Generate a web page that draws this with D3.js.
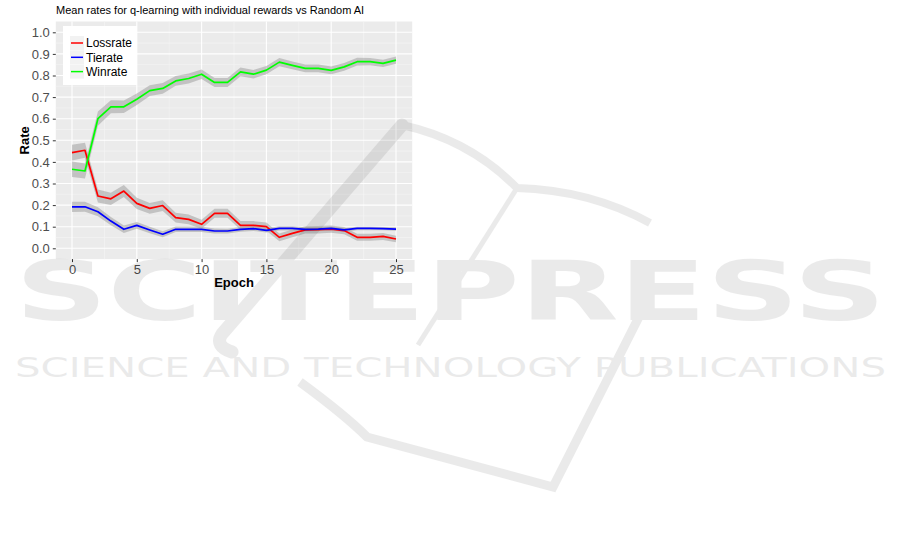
<!DOCTYPE html>
<html><head><meta charset="utf-8">
<script src="https://cdn.jsdelivr.net/npm/d3@7/dist/d3.min.js"></script>
<style>body{margin:0;background:#fff}svg{display:block}</style>
</head><body><svg id="c" width="901" height="550"></svg>
<script>
const epochs   = [0,1,2,3,4,5,6,7,8,9,10,11,12,13,14,15,16,17,18,19,20,21,22,23,24,25];
const lossrate = [0.443,0.454,0.242,0.229,0.265,0.208,0.185,0.198,0.142,0.134,0.111,0.162,0.162,0.106,0.106,0.100,0.051,0.069,0.085,0.086,0.089,0.082,0.051,0.051,0.055,0.043];
const tierate  = [0.192,0.192,0.169,0.126,0.088,0.106,0.085,0.065,0.088,0.088,0.088,0.080,0.080,0.088,0.091,0.083,0.092,0.092,0.088,0.089,0.092,0.085,0.092,0.092,0.091,0.089];
const winrate  = [0.366,0.358,0.600,0.655,0.655,0.690,0.730,0.740,0.775,0.786,0.806,0.768,0.768,0.817,0.806,0.825,0.862,0.847,0.833,0.833,0.824,0.840,0.864,0.864,0.856,0.871];
const lossSE   = [0.036,0.035,0.030,0.028,0.028,0.026,0.025,0.025,0.023,0.023,0.021,0.021,0.021,0.020,0.020,0.019,0.018,0.018,0.017,0.017,0.017,0.017,0.016,0.016,0.016,0.015];
const tieSE    = [0.024,0.023,0.021,0.019,0.017,0.016,0.015,0.014,0.013,0.013,0.012,0.012,0.011,0.011,0.011,0.010,0.010,0.010,0.009,0.009,0.009,0.009,0.008,0.008,0.008,0.008];
const winSE    = [0.036,0.035,0.033,0.030,0.029,0.027,0.025,0.025,0.023,0.023,0.022,0.021,0.021,0.020,0.020,0.019,0.019,0.018,0.018,0.018,0.018,0.018,0.018,0.017,0.017,0.017];
const seriesNames  = ["Lossrate","Tierate","Winrate"];
const seriesColors = ["#ff0000","#0000ff","#00ff00"];
const xTicks = [0,5,10,15,20,25];
const xMinor = [2.5,7.5,12.5,17.5,22.5];
const yTicks = [0,0.1,0.2,0.3,0.4,0.5,0.6,0.7,0.8,0.9,1.0];
const yMinor = [0.05,0.15,0.25,0.35,0.45,0.55,0.65,0.75,0.85,0.95];
const titleText = "Mean rates for q-learning with individual rewards vs Random AI";
const xTitle = "Epoch", yTitle = "Rate";

const svg = d3.select("#c");
const font = "'Liberation Sans', Arial, sans-serif";
const P = {l:55.8, r:412.2, t:21.5, b:259.1};
const x = d3.scaleLinear().domain([-1.25, 26.25]).range([P.l, P.r]);
const y = d3.scaleLinear().domain([-0.05, 1.05]).range([P.b, P.t]);

svg.append("rect").attr("width",901).attr("height",550).attr("fill","#fff");
svg.append("rect").attr("x",P.l).attr("y",P.t).attr("width",P.r-P.l).attr("height",P.b-P.t).attr("fill","#ebebeb");

const g = svg.append("g");
g.selectAll(".xmin").data(xMinor).join("line").attr("x1",d=>x(d)).attr("x2",d=>x(d)).attr("y1",P.t).attr("y2",P.b).attr("stroke","#f5f5f5").attr("stroke-width",0.6);
g.selectAll(".ymin").data(yMinor).join("line").attr("y1",d=>y(d)).attr("y2",d=>y(d)).attr("x1",P.l).attr("x2",P.r).attr("stroke","#f5f5f5").attr("stroke-width",0.6);
g.selectAll(".xmaj").data(xTicks).join("line").attr("x1",d=>x(d)).attr("x2",d=>x(d)).attr("y1",P.t).attr("y2",P.b).attr("stroke","#fff").attr("stroke-width",1.1);
g.selectAll(".ymaj").data(yTicks).join("line").attr("y1",d=>y(d)).attr("y2",d=>y(d)).attr("x1",P.l).attr("x2",P.r).attr("stroke","#fff").attr("stroke-width",1.1);

const series = [
  {name:seriesNames[0], color:seriesColors[0], v:lossrate, se:lossSE},
  {name:seriesNames[1], color:seriesColors[1], v:tierate, se:tieSE},
  {name:seriesNames[2], color:seriesColors[2], v:winrate, se:winSE}
];
const area = d3.area().x((d,i)=>x(epochs[i])).y0(d=>y(d[0]-d[1])).y1(d=>y(d[0]+d[1]));
const line = d3.line().x((d,i)=>x(epochs[i])).y(d=>y(d));
series.forEach(s=>{
  g.append("path").datum(s.v.map((v,i)=>[v,s.se[i]])).attr("d",area).attr("fill","#999999").attr("fill-opacity",0.5);
});
series.forEach(s=>{
  g.append("path").datum(s.v).attr("d",line).attr("fill","none").attr("stroke",s.color).attr("stroke-width",1.7).attr("stroke-linejoin","round");
});

// axes
const xa = svg.append("g").attr("transform",`translate(0,${P.b})`).call(d3.axisBottom(x).tickValues(xTicks).tickSize(3).tickPadding(3).tickFormat(d3.format("d")));
const ya = svg.append("g").attr("transform",`translate(${P.l},0)`).call(d3.axisLeft(y).tickValues(yTicks).tickSize(3).tickPadding(3).tickFormat(d3.format(".1f")));
[xa,ya].forEach(a=>{
  a.select(".domain").remove();
  a.selectAll("line").attr("stroke","#333");
  a.selectAll("text").attr("fill","#4d4d4d").attr("font-family",font).attr("font-size",13);
});

svg.append("text").attr("x",56).attr("y",13.5).attr("font-family",font).attr("font-size",11).attr("fill","#000").text(titleText);
svg.append("text").attr("x",(P.l+P.r)/2).attr("y",287).attr("text-anchor","middle").attr("font-family",font).attr("font-weight","bold").attr("font-size",13).attr("fill","#000").text(xTitle);
svg.append("text").attr("transform",`translate(29,${(P.t+P.b)/2}) rotate(-90)`).attr("text-anchor","middle").attr("font-family",font).attr("font-weight","bold").attr("font-size",13).attr("fill","#000").text(yTitle);

// legend
const lg = svg.append("g");
lg.append("rect").attr("x",63).attr("y",26).attr("width",74).attr("height",59).attr("fill","#fff");
series.forEach((s,i)=>{
  const cy = 43 + i*14.3;
  lg.append("rect").attr("x",70).attr("y",cy-7).attr("width",14).attr("height",14).attr("fill","#f2f2f2");
  lg.append("line").attr("x1",71).attr("x2",83).attr("y1",cy).attr("y2",cy).attr("stroke",s.color).attr("stroke-width",1.5);
  lg.append("text").attr("x",86).attr("y",cy).attr("dy","0.35em").attr("font-family",font).attr("font-size",12).attr("fill","#000").text(s.name);
});

// watermark (publisher overlay)
const wm = svg.append("g").attr("opacity",0.08);
wm.append("path").attr("d","M402,125 L222,334 Q214,346 232,352").attr("fill","none").attr("stroke","#000").attr("stroke-width",13).attr("stroke-linecap","round");
wm.append("path").attr("d","M402,125 Q470,140 517,188 Q590,190 650,223").attr("fill","none").attr("stroke","#000").attr("stroke-width",8);
wm.append("path").attr("d","M517,188 L418,345").attr("fill","none").attr("stroke","#000").attr("stroke-width",5);
wm.append("path").attr("d","M300,382 Q345,415 367,437 L553,487 L645,305").attr("fill","none").attr("stroke","#000").attr("stroke-width",9);
wm.append("text").attr("x",15).attr("y",320).attr("textLength",871).attr("lengthAdjust","spacingAndGlyphs").attr("font-family","'DejaVu Sans', sans-serif").attr("font-weight","bold").attr("font-size",82).attr("fill","#000").text("SCITEPRESS");
wm.append("text").attr("x",15).attr("y",377).attr("textLength",871).attr("lengthAdjust","spacingAndGlyphs").attr("font-family","'DejaVu Sans', sans-serif").attr("font-size",27).attr("fill","#000").text("SCIENCE AND TECHNOLOGY PUBLICATIONS");
</script></body></html>
